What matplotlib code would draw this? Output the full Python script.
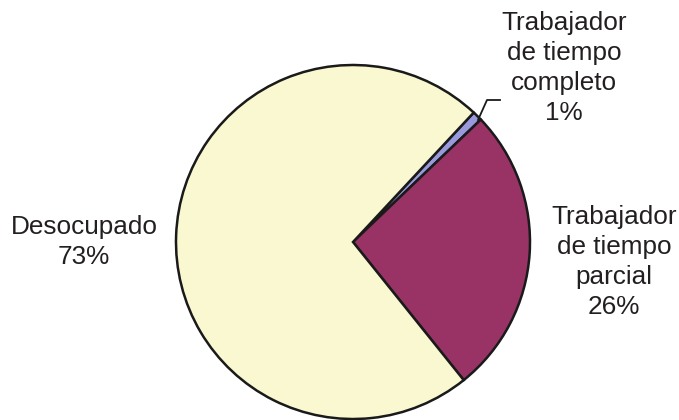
import matplotlib
matplotlib.use("Agg")
import matplotlib.pyplot as plt

plt.rcParams['font.family'] = ['Liberation Sans', 'DejaVu Sans']

# data (percent of total)
labels = ["Trabajador\nde tiempo\ncompleto\n1%", "Trabajador\nde tiempo\nparcial\n26%", "Desocupado\n73%"]
values = [0.9, 26.4, 72.7]
colors = ["#9999DD", "#993366", "#FAF8D0"]

fig = plt.figure(figsize=(6.79, 4.2), dpi=100)
ax = fig.add_axes([0, 0, 1, 1])

# pie centre/radius in pixel units
cx, cy, r = 353, 178, 177
wedges, _ = ax.pie(values, colors=colors, startangle=47, counterclock=False,
                   center=(cx, cy), radius=r, frame=True,
                   wedgeprops=dict(edgecolor="#1a1a1a", linewidth=1.8))
ax.set_xlim(0, 679)
ax.set_ylim(0, 420)
ax.axis("off")

# labels
txt = dict(ha="center", va="center", fontsize=18.8, color="#231F20", linespacing=1.3)
ax.text(564, 352, labels[0], **txt)
ax.text(614, 158, labels[1], **txt)
ax.text(84, 178, labels[2], **txt)

# leader line for the small slice
ax.plot([478, 487, 500], [300, 320, 320], color="#1a1a1a", lw=1.3)

fig.savefig("out.png", dpi=100)
